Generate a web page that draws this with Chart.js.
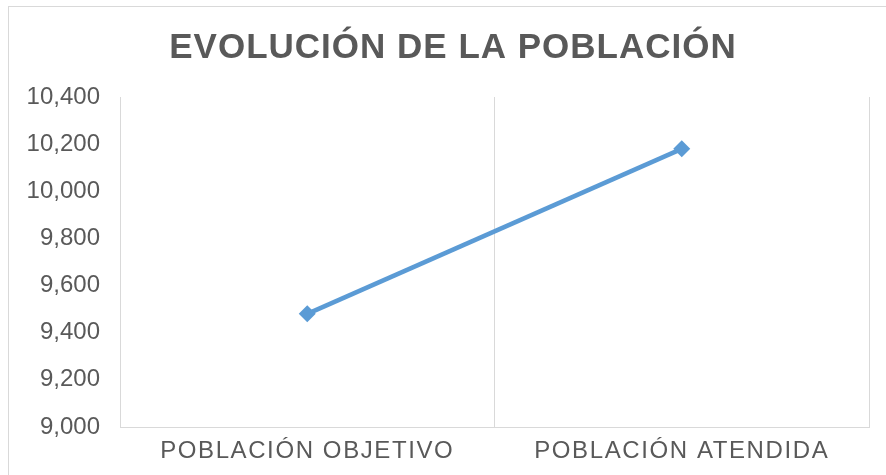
<!DOCTYPE html>
<html>
<head>
<meta charset="utf-8">
<script src="https://cdn.jsdelivr.net/npm/chart.js@4/dist/chart.umd.min.js"></script>
<style>
  html, body { margin: 0; padding: 0; background: #ffffff; overflow: hidden; }
  #wrap { position: relative; width: 886px; height: 475px; overflow: hidden; }
  #frame { position: absolute; left: 8px; top: 6px; width: 2000px; height: 2000px; border: 1px solid #d9d9d9; box-sizing: border-box; }
  #c { position: absolute; left: 0; top: 0; }
</style>
</head>
<body>
<div id="wrap">
  <div id="frame"></div>
  <canvas id="c" width="886" height="475"></canvas>
</div>
<script>
const titleText = 'EVOLUCIÓN DE LA POBLACIÓN';
const categories = ['POBLACIÓN OBJETIVO', 'POBLACIÓN ATENDIDA'];
const poblacion = [9480, 10180];
const yMin = 9000;
const yMax = 10400;
const yStep = 200;

const textColor = '#595959';
const gridColor = '#d9d9d9';
const lineColor = '#5b9bd5';

const spacingPlugin = {
  id: 'spacing',
  beforeDraw(chart) {
    const ctx = chart.ctx;
    const tb = chart.titleBlock;
    if (tb && !tb._wrapped) {
      const orig = tb.draw;
      tb.draw = function () {
        ctx.save();
        ctx.letterSpacing = '1px';
        const dx = 453 - (this.left + this.right) / 2;
        ctx.translate(dx, 0);
        orig.apply(this, arguments);
        ctx.restore();
      };
      tb._wrapped = true;
    }
    const xs = chart.scales.x;
    if (xs && !xs._wrapped) {
      const origL = xs.drawLabels;
      xs.drawLabels = function () {
        ctx.save();
        ctx.letterSpacing = '1.6px';
        origL.apply(this, arguments);
        ctx.restore();
      };
      xs._wrapped = true;
    }
  }
};

new Chart(document.getElementById('c'), {
  type: 'line',
  data: {
    labels: categories,
    datasets: [{
      label: 'Población',
      data: poblacion,
      borderColor: lineColor,
      backgroundColor: lineColor,
      borderWidth: 4.5,
      pointStyle: 'rectRot',
      pointRadius: 8.5,
      pointHoverRadius: 8.5,
      pointBorderWidth: 0,
      tension: 0,
      fill: false
    }]
  },
  options: {
    responsive: false,
    animation: false,
    layout: { padding: { left: 0, right: 17, top: 0, bottom: 0 } },
    plugins: {
      legend: { display: false },
      tooltip: { enabled: false },
      title: {
        display: true,
        text: titleText,
        color: textColor,
        font: { family: '"Liberation Sans", Arial, sans-serif', size: 35, weight: 'bold', lineHeight: 1.2 },
        padding: { top: 27, bottom: 28 }
      }
    },
    scales: {
      x: {
        offset: true,
        grid: { display: true, offset: true, color: gridColor, lineWidth: 1, drawTicks: false },
        border: { display: true, color: gridColor, width: 1 },
        ticks: {
          color: textColor,
          padding: 10,
          maxRotation: 0,
          autoSkip: false,
          font: { family: '"Liberation Sans", Arial, sans-serif', size: 24 }
        },
        afterFit(scale) { scale.height = 48; }
      },
      y: {
        min: yMin,
        max: yMax,
        grid: { display: false, drawTicks: false },
        border: { display: false },
        ticks: {
          stepSize: yStep,
          color: textColor,
          padding: 20,
          font: { family: '"Liberation Sans", Arial, sans-serif', size: 24 },
          callback: (v) => Number(v).toLocaleString('en-US')
        },
        afterFit(scale) { scale.width = 120; }
      }
    }
  },
  plugins: [spacingPlugin]
});
</script>
</body>
</html>
